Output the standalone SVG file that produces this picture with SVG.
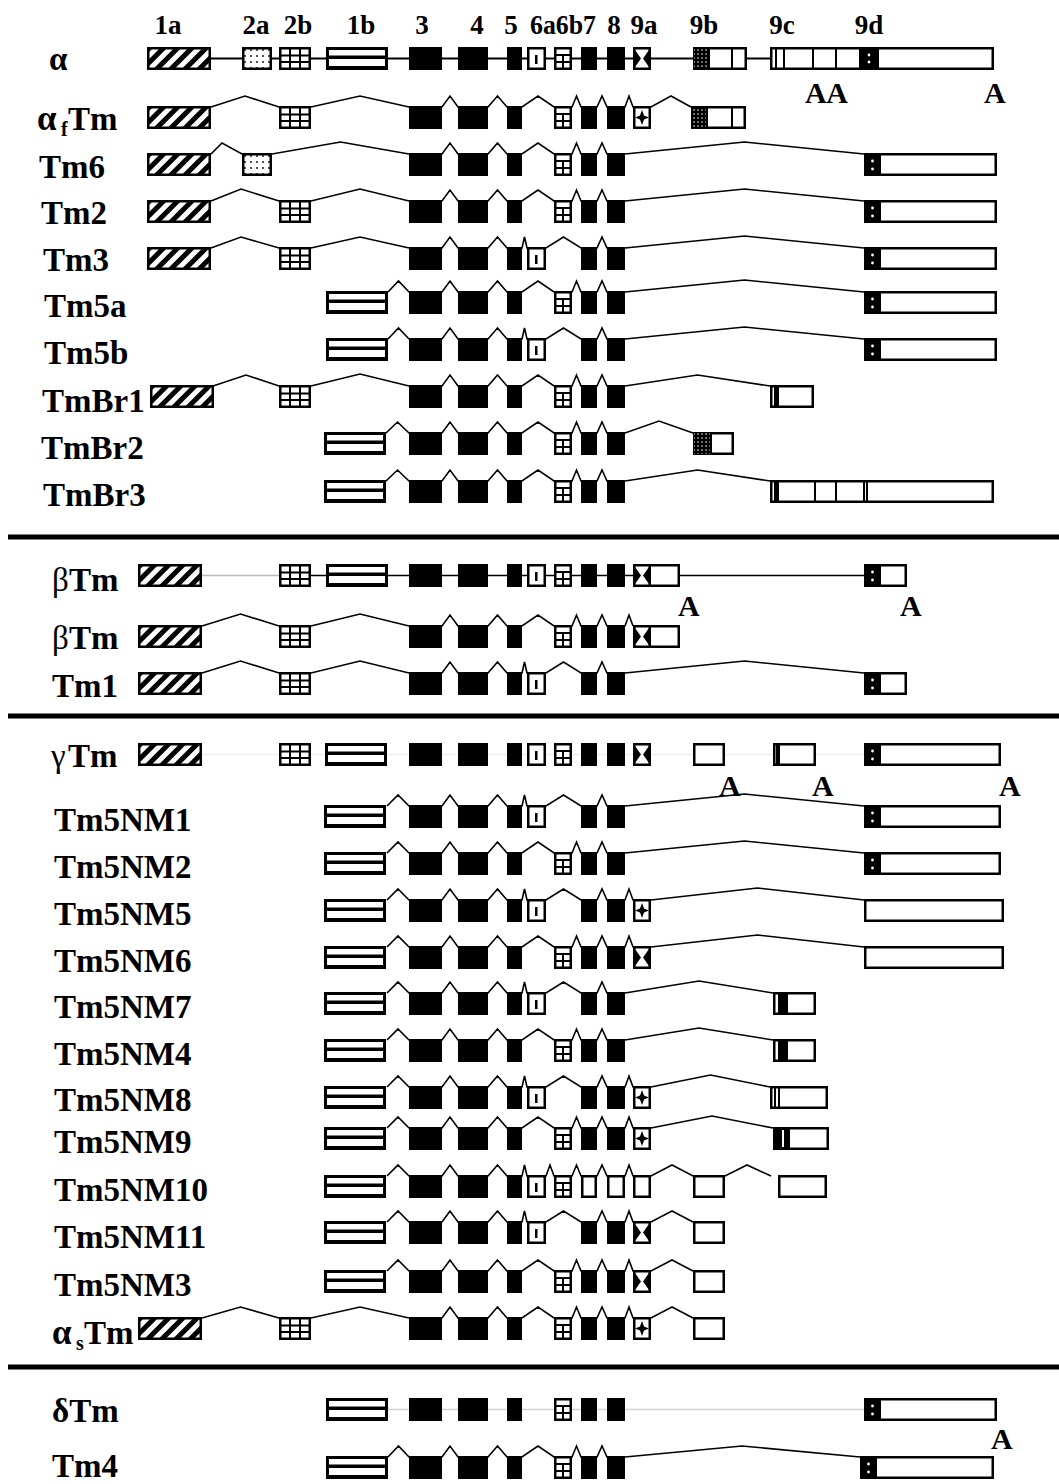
<svg xmlns="http://www.w3.org/2000/svg" xmlns:xlink="http://www.w3.org/1999/xlink" width="1059" height="1484" viewBox="0 0 1059 1484">
<style>
.o{fill:#fff;stroke:#000;stroke-width:2.5}
.sp{fill:none;stroke:#000;stroke-width:1.6;stroke-linejoin:miter}
.ln{fill:none;stroke:#000;stroke-width:2}
.lbl{font-family:"Liberation Serif","Times New Roman",serif;font-weight:bold;font-size:33px;fill:#000}
.gk{font-weight:normal}
.ex{font-family:"Liberation Serif","Times New Roman",serif;font-weight:bold;font-size:27px;fill:#000}
.pa{font-family:"Liberation Serif","Times New Roman",serif;font-weight:bold;font-size:30px;fill:#000}
.sep{stroke:#000;stroke-width:5}
</style>
<defs>
<pattern id="hatch" patternUnits="userSpaceOnUse" width="10" height="10" patternTransform="rotate(45)"><rect width="10" height="10" fill="#fff"/><rect width="5" height="10" fill="#000"/></pattern>
<pattern id="dots" patternUnits="userSpaceOnUse" width="6" height="6"><rect width="6" height="6" fill="#fff"/><circle cx="3" cy="3" r="0.9" fill="#000"/></pattern>
<pattern id="wdots" patternUnits="userSpaceOnUse" width="4" height="4"><rect width="4" height="4" fill="#000"/><rect x="1.4" y="1.4" width="1.3" height="1.3" fill="#fff"/></pattern>
<g id="e1a"><rect x="1.25" y="1.25" width="61.5" height="20.5" fill="url(#hatch)" stroke="#000" stroke-width="2.5"/></g>
<g id="e2a"><rect x="1.25" y="1.25" width="27.5" height="20.5" fill="url(#dots)" stroke="#000" stroke-width="2.5"/></g>
<g id="e2b"><rect x="1.25" y="1.25" width="29.5" height="20.5" class="o"/><path d="M11,1V22M21,1V22M1,8.5H31M1,15H31" stroke="#000" stroke-width="2"/></g>
<g id="e1b"><rect width="62" height="23" fill="#000"/><rect x="3" y="3" width="56" height="5.5" fill="#fff"/><rect x="3" y="12" width="56" height="7" fill="#fff"/></g>
<rect id="e3" width="33" height="23"/>
<rect id="e4" width="30" height="23"/>
<rect id="e5" width="15" height="23"/>
<rect id="e7" width="16" height="23"/>
<rect id="e8" width="18" height="23"/>
<g id="e6a"><rect x="1.25" y="1.25" width="16.5" height="20.5" class="o"/><rect x="8" y="8" width="2.5" height="9"/></g>
<g id="e6b"><rect x="1.25" y="1.25" width="15.5" height="20.5" class="o"/><path d="M1,8H17M1,15H17M9,8V22" stroke="#000" stroke-width="2"/></g>
<g id="e9a"><rect x="1.25" y="1.25" width="15.5" height="20.5" class="o"/><path d="M2,3L8,11.5L2,20ZM16,3L10,11.5L16,20Z"/></g>
<g id="e9s"><rect x="1.25" y="1.25" width="15.5" height="20.5" class="o"/><path d="M9,4L11,9.5L16,11.5L11,13.5L9,19L7,13.5L2,11.5L7,9.5Z"/></g>
<g id="e9k"><rect width="17" height="23"/><circle cx="8.5" cy="8" r="1.4" fill="#fff"/><circle cx="8.5" cy="16" r="1.4" fill="#fff"/></g>
</defs>
<rect width="1059" height="1484" fill="#fff"/>

<g id="exon-labels">
<text class="ex" x="168" y="34" text-anchor="middle">1a</text>
<text class="ex" x="256" y="34" text-anchor="middle">2a</text>
<text class="ex" x="298" y="34" text-anchor="middle">2b</text>
<text class="ex" x="361" y="34" text-anchor="middle">1b</text>
<text class="ex" x="422" y="34" text-anchor="middle">3</text>
<text class="ex" x="477" y="34" text-anchor="middle">4</text>
<text class="ex" x="511" y="34" text-anchor="middle">5</text>
<text class="ex" x="530" y="34" textLength="66" lengthAdjust="spacingAndGlyphs">6a6b7</text>
<text class="ex" x="614" y="34" text-anchor="middle">8</text>
<text class="ex" x="644" y="34" text-anchor="middle">9a</text>
<text class="ex" x="704" y="34" text-anchor="middle">9b</text>
<text class="ex" x="782" y="34" text-anchor="middle">9c</text>
<text class="ex" x="869" y="34" text-anchor="middle">9d</text>
</g>

<g id="separators">
<line class="sep" x1="8" y1="537" x2="1059" y2="537"/>
<line class="sep" x1="8" y1="716" x2="1059" y2="716"/>
<line class="sep" x1="8" y1="1367" x2="1059" y2="1367"/>
</g>

<g id="connectors">
<line class="ln" x1="211" y1="58.5" x2="770" y2="58.5"/>
<line x1="202" y1="575.5" x2="279" y2="575.5" stroke="#bbb" stroke-width="1.6"/>
<line x1="311" y1="575.5" x2="864" y2="575.5" stroke="#000" stroke-width="1.6"/>
<line x1="202" y1="754.5" x2="864" y2="754.5" stroke="#eee" stroke-width="1.6"/>
<line x1="388" y1="1409.5" x2="864" y2="1409.5" stroke="#d4d4d4" stroke-width="1.6"/>
<polyline class="sp" points="211,107 245,96 279,107 311,107 360,96 409,107 442,107 450,96 458,107 488,107 497.5,96 507,107 522,107 538,96 554,107 572,107 576.5,96 581,107 597,107 602,96 607,107 625,107 629,96 633,107 651,107 671,96 691,107"/>
<polyline class="sp" points="211,154 222,143 242,154 272,154 340.5,142 409,154 442,154 450,143 458,154 488,154 497.5,143 507,154 522,154 538,143 554,154 572,154 576.5,143 581,154 597,154 602,143 607,154 625,154 744.5,142 864,154"/>
<polyline class="sp" points="211,201 241,189 279,201 311,201 360,189 409,201 442,201 450,190 458,201 488,201 497.5,190 507,201 522,201 538,190 554,201 572,201 576.5,190 581,201 597,201 602,190 607,201 625,201 744.5,189 864,201"/>
<polyline class="sp" points="211,248 241,237 279,248 311,248 360,237 409,248 442,248 450,237 458,248 488,248 497.5,237 507,248 522,248 524.5,237 527,248 546,248 563.5,237 581,248 597,248 602,237 607,248 625,248 744.5,236 864,248"/>
<polyline class="sp" points="388,292 398.5,281 409,292 442,292 450,281 458,292 488,292 497.5,281 507,292 522,292 538,281 554,292 572,292 576.5,281 581,292 597,292 602,281 607,292 625,292 744.5,280 864,292"/>
<polyline class="sp" points="388,339 398.5,328 409,339 442,339 450,328 458,339 488,339 497.5,328 507,339 522,339 524.5,328 527,339 546,339 563.5,328 581,339 597,339 602,328 607,339 625,339 744.5,327 864,339"/>
<polyline class="sp" points="213,386 246,375 279,386 311,386 360,374 409,386 442,386 450,375 458,386 488,386 497.5,375 507,386 522,386 538,375 554,386 572,386 576.5,375 581,386 597,386 602,375 607,386 625,386 697.5,375 770,386"/>
<polyline class="sp" points="386,433 397.5,422 409,433 442,433 450,422 458,433 488,433 497.5,422 507,433 522,433 538,422 554,433 572,433 576.5,422 581,433 597,433 602,422 607,433 625,433 659,421 693,433"/>
<polyline class="sp" points="386,481 397.5,470 409,481 442,481 450,470 458,481 488,481 497.5,470 507,481 522,481 538,470 554,481 572,481 576.5,470 581,481 597,481 602,470 607,481 625,481 697.5,470 770,481"/>
<polyline class="sp" points="202,626 240.5,614 279,626 311,626 360,614 409,626 442,626 450,615 458,626 488,626 497.5,615 507,626 522,626 538,615 554,626 572,626 576.5,615 581,626 597,626 602,615 607,626 625,626 629,615 633,626"/>
<polyline class="sp" points="202,673 240.5,661 279,673 311,673 360,661 409,673 442,673 450,662 458,673 488,673 497.5,662 507,673 522,673 524.5,662 527,673 546,673 563.5,662 581,673 597,673 602,662 607,673 625,673 744.5,661 864,673"/>
<polyline class="sp" points="387,806 398,795 409,806 442,806 450,795 458,806 488,806 497.5,795 507,806 522,806 524.5,795 527,806 546,806 563.5,795 581,806 597,806 602,795 607,806 625,806 744.5,794 864,806"/>
<polyline class="sp" points="387,853 398,842 409,853 442,853 450,842 458,853 488,853 497.5,842 507,853 522,853 538,842 554,853 572,853 576.5,842 581,853 597,853 602,842 607,853 625,853 744.5,841 864,853"/>
<polyline class="sp" points="387,900 398,889 409,900 442,900 450,889 458,900 488,900 497.5,889 507,900 522,900 524.5,889 527,900 546,900 563.5,889 581,900 597,900 602,889 607,900 625,900 629,889 633,900 651,900 757.5,888 864,900"/>
<polyline class="sp" points="387,947 398,936 409,947 442,947 450,936 458,947 488,947 497.5,936 507,947 522,947 538,936 554,947 572,947 576.5,936 581,947 597,947 602,936 607,947 625,947 629,936 633,947 651,947 757.5,935 864,947"/>
<polyline class="sp" points="387,993 398,982 409,993 442,993 450,982 458,993 488,993 497.5,982 507,993 522,993 524.5,982 527,993 546,993 563.5,982 581,993 597,993 602,982 607,993 625,993 699,981 773,993"/>
<polyline class="sp" points="387,1040 398,1029 409,1040 442,1040 450,1029 458,1040 488,1040 497.5,1029 507,1040 522,1040 538,1029 554,1040 572,1040 576.5,1029 581,1040 597,1040 602,1029 607,1040 625,1040 699,1028 773,1040"/>
<polyline class="sp" points="387,1087 398,1076 409,1087 442,1087 450,1076 458,1087 488,1087 497.5,1076 507,1087 522,1087 524.5,1076 527,1087 546,1087 563.5,1076 581,1087 597,1087 602,1076 607,1087 625,1087 629,1076 633,1087 651,1087 710.5,1075 770,1087"/>
<polyline class="sp" points="387,1128 398,1117 409,1128 442,1128 450,1117 458,1128 488,1128 497.5,1117 507,1128 522,1128 538,1117 554,1128 572,1128 576.5,1117 581,1128 597,1128 602,1117 607,1128 625,1128 629,1117 633,1128 651,1128 712,1116 773,1128"/>
<polyline class="sp" points="387,1176 398,1165 409,1176 442,1176 450,1165 458,1176 488,1176 497.5,1165 507,1176 522,1176 524.5,1165 527,1176 546,1176 550,1165 554,1176 572,1176 576.5,1165 581,1176 597,1176 602,1165 607,1176 625,1176 629,1165 633,1176 651,1176 672,1165 693,1176 725,1176 747,1165 771,1176"/>
<polyline class="sp" points="387,1222 398,1211 409,1222 442,1222 450,1211 458,1222 488,1222 497.5,1211 507,1222 522,1222 524.5,1211 527,1222 546,1222 563.5,1211 581,1222 597,1222 602,1211 607,1222 625,1222 629,1211 633,1222 651,1222 672,1211 693,1222"/>
<polyline class="sp" points="387,1271 398,1260 409,1271 442,1271 450,1260 458,1271 488,1271 497.5,1260 507,1271 522,1271 538,1260 554,1271 572,1271 576.5,1260 581,1271 597,1271 602,1260 607,1271 625,1271 629,1260 633,1271 651,1271 672,1260 693,1271"/>
<polyline class="sp" points="202,1318 240.5,1307 279,1318 311,1318 360,1307 409,1318 442,1318 450,1307 458,1318 488,1318 497.5,1307 507,1318 522,1318 538,1307 554,1318 572,1318 576.5,1307 581,1318 597,1318 602,1307 607,1318 625,1318 629,1307 633,1318 651,1318 672,1307 693,1318"/>
<polyline class="sp" points="388,1457 398.5,1446 409,1457 442,1457 450,1446 458,1457 488,1457 497.5,1446 507,1457 522,1457 538,1446 554,1457 572,1457 576.5,1446 581,1457 597,1457 602,1446 607,1457 625,1457 742,1446 860,1457"/>
</g>

<g id="alpha-gene">
<text class="lbl" x="49" y="70" font-size="36">α</text>
<use href="#e1a" x="147" y="47"/><use href="#e2a" x="242" y="47"/><use href="#e2b" x="279" y="47"/><use href="#e1b" x="326" y="47"/>
<use href="#e3" x="409" y="47"/><use href="#e4" x="458" y="47"/><use href="#e5" x="507" y="47"/><use href="#e6a" x="527" y="47"/><use href="#e6b" x="554" y="47"/><use href="#e7" x="581" y="47"/><use href="#e8" x="607" y="47"/><use href="#e9a" x="633" y="47"/>
<rect class="o" x="694.25" y="48.25" width="51.5" height="20.5"/><rect x="694" y="48" width="15" height="21" fill="url(#wdots)"/><path d="M709,47V70M732,47V70" stroke="#000" stroke-width="2"/>
<rect class="o" x="771.25" y="48.25" width="221.5" height="20.5"/><path d="M776,47V70M784,47V70M813,47V70M836,47V70" stroke="#000" stroke-width="2"/>
<rect x="859" y="47" width="20" height="23"/><circle cx="869" cy="55" r="1.4" fill="#fff"/><circle cx="869" cy="62" r="1.4" fill="#fff"/>
<text class="pa" x="805" y="103" textLength="43" lengthAdjust="spacing">AA</text>
<text class="pa" x="984" y="103">A</text>
</g>

<g id="row-afTm">
<text class="lbl" x="37" y="130"><tspan font-size="35">α</tspan><tspan x="61" dy="6" font-size="20">f</tspan><tspan x="68" dy="-6">Tm</tspan></text>
<use href="#e1a" x="147" y="106"/><use href="#e2b" x="279" y="106"/><use href="#e3" x="409" y="106"/><use href="#e4" x="458" y="106"/><use href="#e5" x="507" y="106"/><use href="#e6b" x="554" y="106"/><use href="#e7" x="581" y="106"/><use href="#e8" x="607" y="106"/><use href="#e9s" x="633" y="106"/>
<rect class="o" x="692.25" y="107.25" width="52.5" height="20.5"/><rect x="692" y="107" width="15" height="21" fill="url(#wdots)"/><path d="M707,106V129M732,106V129" stroke="#000" stroke-width="2"/>
</g>

<g id="row-Tm6">
<text class="lbl" x="39" y="178">Tm6</text>
<use href="#e1a" x="147" y="153"/><use href="#e2a" x="242" y="153"/><use href="#e3" x="409" y="153"/><use href="#e4" x="458" y="153"/><use href="#e5" x="507" y="153"/><use href="#e6b" x="554" y="153"/><use href="#e7" x="581" y="153"/><use href="#e8" x="607" y="153"/>
<rect class="o" x="865.25" y="154.25" width="130.5" height="20.5"/><use href="#e9k" x="864" y="153"/>
</g>

<g id="row-Tm2">
<text class="lbl" x="41" y="224">Tm2</text>
<use href="#e1a" x="147" y="200"/><use href="#e2b" x="279" y="200"/><use href="#e3" x="409" y="200"/><use href="#e4" x="458" y="200"/><use href="#e5" x="507" y="200"/><use href="#e6b" x="554" y="200"/><use href="#e7" x="581" y="200"/><use href="#e8" x="607" y="200"/>
<rect class="o" x="865.25" y="201.25" width="130.5" height="20.5"/><use href="#e9k" x="864" y="200"/>
</g>

<g id="row-Tm3">
<text class="lbl" x="43" y="271">Tm3</text>
<use href="#e1a" x="147" y="247"/><use href="#e2b" x="279" y="247"/><use href="#e3" x="409" y="247"/><use href="#e4" x="458" y="247"/><use href="#e5" x="507" y="247"/><use href="#e6a" x="527" y="247"/><use href="#e7" x="581" y="247"/><use href="#e8" x="607" y="247"/>
<rect class="o" x="865.25" y="248.25" width="130.5" height="20.5"/><use href="#e9k" x="864" y="247"/>
</g>

<g id="row-Tm5a">
<text class="lbl" x="44" y="317">Tm5a</text>
<use href="#e1b" x="326" y="291"/><use href="#e3" x="409" y="291"/><use href="#e4" x="458" y="291"/><use href="#e5" x="507" y="291"/><use href="#e6b" x="554" y="291"/><use href="#e7" x="581" y="291"/><use href="#e8" x="607" y="291"/>
<rect class="o" x="865.25" y="292.25" width="130.5" height="20.5"/><use href="#e9k" x="864" y="291"/>
</g>

<g id="row-Tm5b">
<text class="lbl" x="44" y="364">Tm5b</text>
<use href="#e1b" x="326" y="338"/><use href="#e3" x="409" y="338"/><use href="#e4" x="458" y="338"/><use href="#e5" x="507" y="338"/><use href="#e6a" x="527" y="338"/><use href="#e7" x="581" y="338"/><use href="#e8" x="607" y="338"/>
<rect class="o" x="865.25" y="339.25" width="130.5" height="20.5"/><use href="#e9k" x="864" y="338"/>
</g>

<g id="row-TmBr1">
<text class="lbl" x="42" y="412">TmBr1</text>
<use href="#e1a" x="150" y="385"/><use href="#e2b" x="279" y="385"/><use href="#e3" x="409" y="385"/><use href="#e4" x="458" y="385"/><use href="#e5" x="507" y="385"/><use href="#e6b" x="554" y="385"/><use href="#e7" x="581" y="385"/><use href="#e8" x="607" y="385"/>
<rect class="o" x="771.25" y="386.25" width="41.5" height="20.5"/><rect x="774" y="385" width="5" height="23"/>
</g>

<g id="row-TmBr2">
<text class="lbl" x="41" y="459">TmBr2</text>
<use href="#e1b" x="324" y="432"/><use href="#e3" x="409" y="432"/><use href="#e4" x="458" y="432"/><use href="#e5" x="507" y="432"/><use href="#e6b" x="554" y="432"/><use href="#e7" x="581" y="432"/><use href="#e8" x="607" y="432"/>
<rect class="o" x="694.25" y="433.25" width="38.5" height="20.5"/><rect x="694" y="433" width="17" height="21" fill="url(#wdots)"/><path d="M711,432V455" stroke="#000" stroke-width="2"/>
</g>

<g id="row-TmBr3">
<text class="lbl" x="43" y="506">TmBr3</text>
<use href="#e1b" x="324" y="480"/><use href="#e3" x="409" y="480"/><use href="#e4" x="458" y="480"/><use href="#e5" x="507" y="480"/><use href="#e6b" x="554" y="480"/><use href="#e7" x="581" y="480"/><use href="#e8" x="607" y="480"/>
<rect class="o" x="771.25" y="481.25" width="221.5" height="20.5"/><rect x="774" y="480" width="5" height="23"/><path d="M815,480V503M836,480V503M864,480V503M867,480V503" stroke="#000" stroke-width="2"/>
</g>

<g id="beta-gene">
<text class="lbl" x="52" y="591"><tspan class="gk">β</tspan><tspan x="69">Tm</tspan></text>
<use href="#e1a" x="138" y="564"/><use href="#e2b" x="279" y="564"/><use href="#e1b" x="326" y="564"/><use href="#e3" x="409" y="564"/><use href="#e4" x="458" y="564"/><use href="#e5" x="507" y="564"/><use href="#e6a" x="527" y="564"/><use href="#e6b" x="554" y="564"/><use href="#e7" x="581" y="564"/><use href="#e8" x="607" y="564"/>
<rect class="o" x="634.25" y="565.25" width="44.5" height="20.5"/><use href="#e9a" x="633" y="564"/>
<rect class="o" x="865.25" y="565.25" width="40.5" height="20.5"/><use href="#e9k" x="864" y="564"/>
<text class="pa" x="678" y="616">A</text>
<text class="pa" x="900" y="616">A</text>
</g>

<g id="row-bTm">
<text class="lbl" x="52" y="649"><tspan class="gk">β</tspan><tspan x="69">Tm</tspan></text>
<use href="#e1a" x="138" y="625"/><use href="#e2b" x="279" y="625"/><use href="#e3" x="409" y="625"/><use href="#e4" x="458" y="625"/><use href="#e5" x="507" y="625"/><use href="#e6b" x="554" y="625"/><use href="#e7" x="581" y="625"/><use href="#e8" x="607" y="625"/>
<rect class="o" x="634.25" y="626.25" width="44.5" height="20.5"/><use href="#e9a" x="633" y="625"/>
</g>

<g id="row-Tm1">
<text class="lbl" x="52" y="697">Tm1</text>
<use href="#e1a" x="138" y="672"/><use href="#e2b" x="279" y="672"/><use href="#e3" x="409" y="672"/><use href="#e4" x="458" y="672"/><use href="#e5" x="507" y="672"/><use href="#e6a" x="527" y="672"/><use href="#e7" x="581" y="672"/><use href="#e8" x="607" y="672"/>
<rect class="o" x="865.25" y="673.25" width="40.5" height="20.5"/><use href="#e9k" x="864" y="672"/>
</g>

<g id="gamma-gene">
<text class="lbl" x="51" y="767"><tspan class="gk">γ</tspan><tspan x="68">Tm</tspan></text>
<use href="#e1a" x="138" y="743"/><use href="#e2b" x="279" y="743"/><use href="#e1b" x="325" y="743"/><use href="#e3" x="409" y="743"/><use href="#e4" x="458" y="743"/><use href="#e5" x="507" y="743"/><use href="#e6a" x="527" y="743"/><use href="#e6b" x="554" y="743"/><use href="#e7" x="581" y="743"/><use href="#e8" x="607" y="743"/><use href="#e9a" x="633" y="743"/>
<rect class="o" x="694.25" y="744.25" width="29.5" height="20.5"/>
<rect class="o" x="774.25" y="744.25" width="40.5" height="20.5"/><rect x="776" y="743" width="4" height="23"/>
<rect class="o" x="865.25" y="744.25" width="134.5" height="20.5"/><use href="#e9k" x="864" y="743"/>
<text class="pa" x="719" y="796">A</text>
<text class="pa" x="812" y="796">A</text>
<text class="pa" x="999" y="796">A</text>
</g>

<g id="row-Tm5NM1">
<text class="lbl" x="54" y="831">Tm5NM1</text>
<use href="#e1b" x="324" y="805"/><use href="#e3" x="409" y="805"/><use href="#e4" x="458" y="805"/><use href="#e5" x="507" y="805"/><use href="#e6a" x="527" y="805"/><use href="#e7" x="581" y="805"/><use href="#e8" x="607" y="805"/>
<rect class="o" x="865.25" y="806.25" width="134.5" height="20.5"/><use href="#e9k" x="864" y="805"/>
</g>

<g id="row-Tm5NM2">
<text class="lbl" x="54" y="878">Tm5NM2</text>
<use href="#e1b" x="324" y="852"/><use href="#e3" x="409" y="852"/><use href="#e4" x="458" y="852"/><use href="#e5" x="507" y="852"/><use href="#e6b" x="554" y="852"/><use href="#e7" x="581" y="852"/><use href="#e8" x="607" y="852"/>
<rect class="o" x="865.25" y="853.25" width="134.5" height="20.5"/><use href="#e9k" x="864" y="852"/>
</g>

<g id="row-Tm5NM5">
<text class="lbl" x="54" y="925">Tm5NM5</text>
<use href="#e1b" x="324" y="899"/><use href="#e3" x="409" y="899"/><use href="#e4" x="458" y="899"/><use href="#e5" x="507" y="899"/><use href="#e6a" x="527" y="899"/><use href="#e7" x="581" y="899"/><use href="#e8" x="607" y="899"/><use href="#e9s" x="633" y="899"/>
<rect class="o" x="865.25" y="900.25" width="137.5" height="20.5"/>
</g>

<g id="row-Tm5NM6">
<text class="lbl" x="54" y="972">Tm5NM6</text>
<use href="#e1b" x="324" y="946"/><use href="#e3" x="409" y="946"/><use href="#e4" x="458" y="946"/><use href="#e5" x="507" y="946"/><use href="#e6b" x="554" y="946"/><use href="#e7" x="581" y="946"/><use href="#e8" x="607" y="946"/><use href="#e9a" x="633" y="946"/>
<rect class="o" x="865.25" y="947.25" width="137.5" height="20.5"/>
</g>

<g id="row-Tm5NM7">
<text class="lbl" x="54" y="1018">Tm5NM7</text>
<use href="#e1b" x="324" y="992"/><use href="#e3" x="409" y="992"/><use href="#e4" x="458" y="992"/><use href="#e5" x="507" y="992"/><use href="#e6a" x="527" y="992"/><use href="#e7" x="581" y="992"/><use href="#e8" x="607" y="992"/>
<rect class="o" x="774.25" y="993.25" width="40.5" height="20.5"/><rect x="778" y="992" width="10" height="23"/>
</g>

<g id="row-Tm5NM4">
<text class="lbl" x="54" y="1065">Tm5NM4</text>
<use href="#e1b" x="324" y="1039"/><use href="#e3" x="409" y="1039"/><use href="#e4" x="458" y="1039"/><use href="#e5" x="507" y="1039"/><use href="#e6b" x="554" y="1039"/><use href="#e7" x="581" y="1039"/><use href="#e8" x="607" y="1039"/>
<rect class="o" x="774.25" y="1040.25" width="40.5" height="20.5"/><rect x="778" y="1039" width="10" height="23"/>
</g>

<g id="row-Tm5NM8">
<text class="lbl" x="54" y="1111">Tm5NM8</text>
<use href="#e1b" x="324" y="1086"/><use href="#e3" x="409" y="1086"/><use href="#e4" x="458" y="1086"/><use href="#e5" x="507" y="1086"/><use href="#e6a" x="527" y="1086"/><use href="#e7" x="581" y="1086"/><use href="#e8" x="607" y="1086"/><use href="#e9s" x="633" y="1086"/>
<rect class="o" x="771.25" y="1087.25" width="55.5" height="20.5"/><path d="M775,1086V1109M779,1086V1109" stroke="#000" stroke-width="2"/>
</g>

<g id="row-Tm5NM9">
<text class="lbl" x="54" y="1153">Tm5NM9</text>
<use href="#e1b" x="324" y="1127"/><use href="#e3" x="409" y="1127"/><use href="#e4" x="458" y="1127"/><use href="#e5" x="507" y="1127"/><use href="#e6b" x="554" y="1127"/><use href="#e7" x="581" y="1127"/><use href="#e8" x="607" y="1127"/><use href="#e9s" x="633" y="1127"/>
<rect class="o" x="774.25" y="1128.25" width="53.5" height="20.5"/><rect x="773" y="1127" width="17" height="23"/><rect x="782" y="1130" width="2" height="17" fill="#fff"/>
</g>

<g id="row-Tm5NM10">
<text class="lbl" x="54" y="1201">Tm5NM10</text>
<use href="#e1b" x="324" y="1175"/><use href="#e3" x="409" y="1175"/><use href="#e4" x="458" y="1175"/><use href="#e5" x="507" y="1175"/><use href="#e6a" x="527" y="1175"/><use href="#e6b" x="554" y="1175"/>
<rect class="o" x="582.25" y="1176.25" width="13.5" height="20.5"/><rect class="o" x="608.25" y="1176.25" width="15.5" height="20.5"/><rect class="o" x="634.25" y="1176.25" width="15.5" height="20.5"/>
<rect class="o" x="694.25" y="1176.25" width="29.5" height="20.5"/><rect class="o" x="779.25" y="1176.25" width="46.5" height="20.5"/>
</g>

<g id="row-Tm5NM11">
<text class="lbl" x="54" y="1248">Tm5NM11</text>
<use href="#e1b" x="324" y="1221"/><use href="#e3" x="409" y="1221"/><use href="#e4" x="458" y="1221"/><use href="#e5" x="507" y="1221"/><use href="#e6a" x="527" y="1221"/><use href="#e7" x="581" y="1221"/><use href="#e8" x="607" y="1221"/><use href="#e9a" x="633" y="1221"/>
<rect class="o" x="694.25" y="1222.25" width="29.5" height="20.5"/>
</g>

<g id="row-Tm5NM3">
<text class="lbl" x="54" y="1296">Tm5NM3</text>
<use href="#e1b" x="324" y="1270"/><use href="#e3" x="409" y="1270"/><use href="#e4" x="458" y="1270"/><use href="#e5" x="507" y="1270"/><use href="#e6b" x="554" y="1270"/><use href="#e7" x="581" y="1270"/><use href="#e8" x="607" y="1270"/><use href="#e9a" x="633" y="1270"/>
<rect class="o" x="694.25" y="1271.25" width="29.5" height="20.5"/>
</g>

<g id="row-asTm">
<text class="lbl" x="52" y="1344"><tspan font-size="35">α</tspan><tspan x="76" dy="6" font-size="20">s</tspan><tspan x="84" dy="-6">Tm</tspan></text>
<use href="#e1a" x="138" y="1317"/><use href="#e2b" x="279" y="1317"/><use href="#e3" x="409" y="1317"/><use href="#e4" x="458" y="1317"/><use href="#e5" x="507" y="1317"/><use href="#e6b" x="554" y="1317"/><use href="#e7" x="581" y="1317"/><use href="#e8" x="607" y="1317"/><use href="#e9s" x="633" y="1317"/>
<rect class="o" x="694.25" y="1318.25" width="29.5" height="20.5"/>
</g>

<g id="delta-gene">
<text class="lbl" x="52" y="1422">δTm</text>
<use href="#e1b" x="326" y="1398"/><use href="#e3" x="409" y="1398"/><use href="#e4" x="458" y="1398"/><use href="#e5" x="507" y="1398"/><use href="#e6b" x="554" y="1398"/><use href="#e7" x="581" y="1398"/><use href="#e8" x="607" y="1398"/>
<rect class="o" x="865.25" y="1399.25" width="130.5" height="20.5"/><use href="#e9k" x="864" y="1398"/>
<text class="pa" x="991" y="1449">A</text>
</g>

<g id="row-Tm4">
<text class="lbl" x="52" y="1477">Tm4</text>
<use href="#e1b" x="326" y="1456"/><use href="#e3" x="409" y="1456"/><use href="#e4" x="458" y="1456"/><use href="#e5" x="507" y="1456"/><use href="#e6b" x="554" y="1456"/><use href="#e7" x="581" y="1456"/><use href="#e8" x="607" y="1456"/>
<rect class="o" x="861.25" y="1457.25" width="131.5" height="20.5"/><use href="#e9k" x="860" y="1456"/>
</g>
</svg>
